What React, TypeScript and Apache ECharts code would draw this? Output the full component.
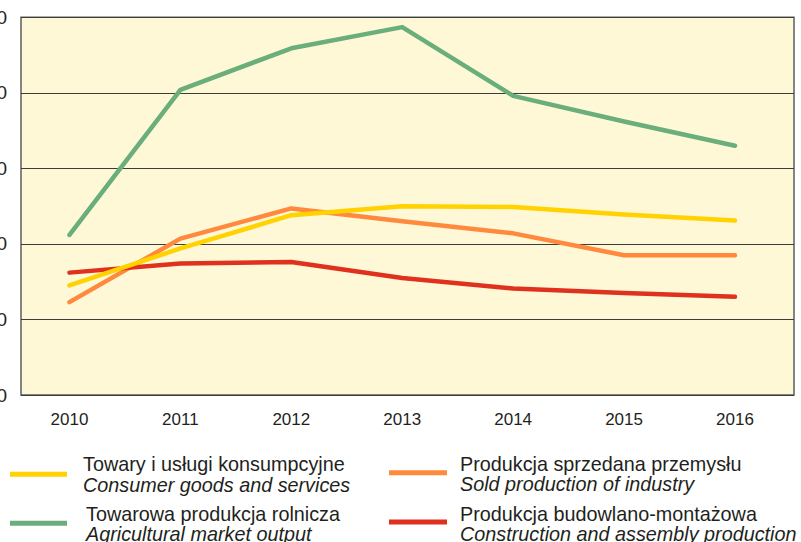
import React, { useEffect, useRef } from "react";
import * as echarts from "echarts";

const years = [2010, 2011, 2012, 2013, 2014, 2015, 2016];
const consumerGoods = [114.5, 119.4, 123.8, 125.0, 124.9, 123.9, 123.1];
const agricultural = [121.2, 140.4, 145.9, 148.7, 139.6, 136.2, 133.0];
const industry = [112.3, 120.7, 124.7, 123.0, 121.4, 118.5, 118.5];
const construction = [116.2, 117.4, 117.6, 115.5, 114.1, 113.5, 113.0];

const seriesNamesPl = [
  "Towary i usługi konsumpcyjne",
  "Towarowa produkcja rolnicza",
  "Produkcja sprzedana przemysłu",
  "Produkcja budowlano-montażowa",
];
const seriesNamesEn = [
  "Consumer goods and services",
  "Agricultural market output",
  "Sold production of industry",
  "Construction and assembly production",
];
const colors = ["#FFD200", "#6AAE7B", "#FF8A3D", "#E0301E"];

const FONT = '"Liberation Sans", Arial, sans-serif';

export default function App() {
  const ref = useRef<HTMLDivElement>(null);

  useEffect(() => {
    if (!ref.current) return;
    const chart = echarts.init(ref.current, null, { renderer: "svg" });
    const dataSets = [consumerGoods, agricultural, industry, construction];
    const mk = (vals: number[]) => years.map((y, i) => [y, vals[i]]);

    const legendPos = [
      { lx1: 10, lx2: 67, ly: 474.3, tx: 83, t1: 463.5, t2: 485 },
      { lx1: 10, lx2: 67, ly: 523.3, tx: 86, t1: 513.5, t2: 534 },
      { lx1: 389, lx2: 447, ly: 472.7, tx: 460, t1: 464, t2: 484 },
      { lx1: 389, lx2: 447, ly: 522, tx: 460, t1: 513.5, t2: 534 },
    ];

    const graphics: any[] = [];
    legendPos.forEach((p, i) => {
      graphics.push({
        type: "line",
        shape: { x1: p.lx1, y1: p.ly, x2: p.lx2, y2: p.ly },
        style: { stroke: colors[i], lineWidth: 5 },
      });
      graphics.push({
        type: "text",
        x: p.tx,
        y: p.t1,
        style: {
          text: seriesNamesPl[i],
          font: `19.8px ${FONT}`,
          fill: "#231F20",
          verticalAlign: "middle",
          align: "left",
        },
      });
      graphics.push({
        type: "text",
        x: p.tx,
        y: p.t2,
        style: {
          text: seriesNamesEn[i],
          font: `italic 19.8px ${FONT}`,
          fill: "#231F20",
          verticalAlign: "middle",
          align: "left",
        },
      });
    });

    chart.setOption({
      animation: false,
      backgroundColor: "#FFFFFF",
      grid: {
        left: 21,
        right: 7,
        top: 17.3,
        bottom: 147,
        show: true,
        outerBoundsMode: "none",
        containLabel: false,
        backgroundColor: "#FEF8D7",
        borderColor: "#5E5E5E",
        borderWidth: 1.5,
      },
      xAxis: {
        type: "value",
        min: 2009.563,
        max: 2016.532,
        axisLine: { show: false },
        axisTick: { show: false },
        splitLine: { show: false },
        axisLabel: {
          customValues: years,
          formatter: (v: number) => String(Math.round(v)),
          fontFamily: FONT,
          fontSize: 17,
          color: "#231F20",
          margin: 16,
        },
      },
      yAxis: {
        type: "value",
        min: 100,
        max: 150,
        interval: 10,
        axisLine: { show: false },
        axisTick: { show: false },
        splitLine: { show: true, lineStyle: { color: "#3C3C3C", width: 1 } },
        axisLabel: {
          fontFamily: FONT,
          fontSize: 19,
          color: "#231F20",
          margin: 14,
        },
      },
      series: dataSets.map((vals, i) => ({
        name: seriesNamesPl[i],
        type: "line",
        data: mk(vals),
        symbol: "none",
        lineStyle: { color: colors[i], width: 4.5, cap: "round", join: "round" },
        itemStyle: { color: colors[i] },
        z: i === 0 ? 5 : 3,
      })),
      graphic: graphics,
    });

    return () => chart.dispose();
  }, []);

  return (
    <div
      ref={ref}
      style={{ position: "fixed", left: 0, top: 0, width: 801, height: 542 }}
    />
  );
}
